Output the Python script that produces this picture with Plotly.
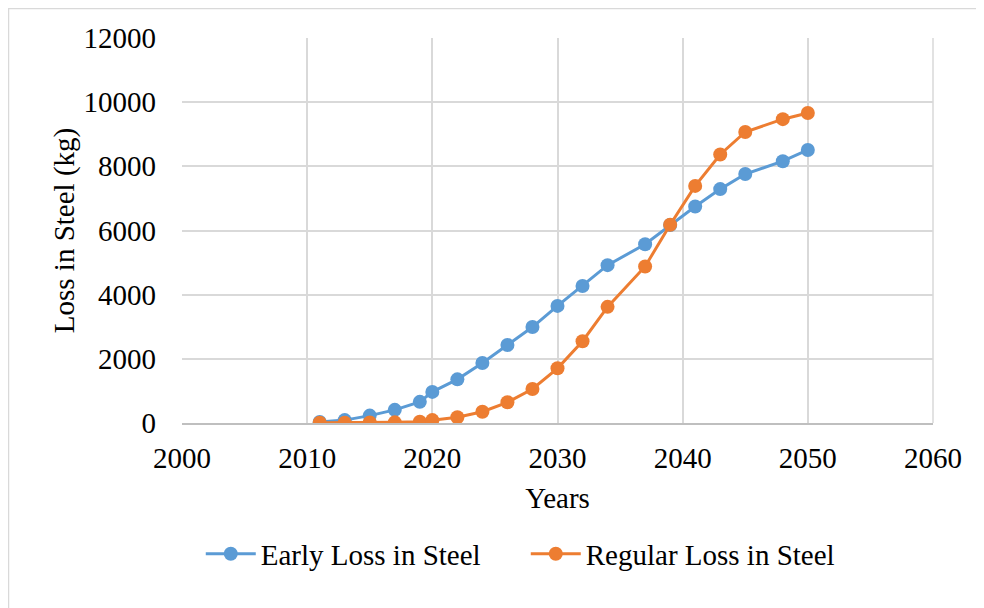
import plotly.graph_objects as go

years = [2011, 2013, 2015, 2017, 2019, 2020, 2022, 2024, 2026, 2028,
         2030, 2032, 2034, 2037, 2039, 2041, 2043, 2045, 2048, 2050]
early_loss = [30, 90, 230, 410, 660, 970, 1360, 1870, 2430, 2990,
              3650, 4270, 4920, 5570, 6170, 6750, 7290, 7760, 8160, 8510]
regular_loss = [10, 10, 15, 20, 40, 90, 180, 350, 645, 1060,
                1705, 2550, 3620, 4880, 6180, 7390, 8370, 9070, 9470, 9660]

x_ticks = [2000, 2010, 2020, 2030, 2040, 2050, 2060]
y_ticks = [0, 2000, 4000, 6000, 8000, 10000, 12000]

FONT = "Liberation Serif, Times New Roman, serif"

L, T, R, B = 174, 30, 51, 185
W, H = 976, 600
PW = W - L - R
PH = H - T - B

fig = go.Figure()
fig.add_trace(go.Scatter(x=years, y=early_loss, mode="lines+markers",
                         name="Early Loss in Steel",
                         line=dict(color="#5B9BD5", width=3),
                         marker=dict(color="#5B9BD5", size=14)))
fig.add_trace(go.Scatter(x=years, y=regular_loss, mode="lines+markers",
                         name="Regular Loss in Steel",
                         line=dict(color="#ED7D31", width=3),
                         marker=dict(color="#ED7D31", size=14)))

fig.update_layout(
    width=W, height=H,
    margin=dict(l=L, r=R, t=T, b=B),
    paper_bgcolor="white", plot_bgcolor="white",
    font=dict(family=FONT, size=29, color="black"),
    showlegend=True,
    legend=dict(orientation="h", x=0.025, xanchor="left", y=-0.34, yanchor="middle",
                font=dict(size=29), itemwidth=50,
                entrywidth=260, entrywidthmode="pixels"),
    xaxis=dict(range=[2000, 2060], tickvals=x_ticks, tickformat="d", showgrid=True,
               gridcolor="#d9d9d9", gridwidth=1.5, zeroline=False,
               showline=True, linecolor="#bfbfbf", linewidth=2,
               ticklabelstandoff=8,
               title=dict(text="Years", font=dict(size=29), standoff=15)),
    yaxis=dict(range=[0, 12000], tickvals=y_ticks, tickformat="d", showgrid=True,
               gridcolor="#d9d9d9", gridwidth=1.5, zeroline=False,
               showline=False, ticklabelstandoff=25,
               title=dict(text="Loss in Steel (kg)", font=dict(size=29), standoff=0)),
    shapes=[
        dict(type="rect", xref="paper", yref="paper",
             x0=(0.5 - L) / PW, x1=(W + 20 - L) / PW,
             y0=-(B + 20) / PH, y1=(PH + T - 0.5) / PH,
             line=dict(color="#d9d9d9", width=1.5), fillcolor="rgba(0,0,0,0)",
             layer="below"),
        dict(type="line", xref="paper", yref="paper", x0=1, x1=1, y0=0, y1=1,
             line=dict(color="#d9d9d9", width=1.5), layer="below"),
    ],
)

fig.write_html("out.html")
